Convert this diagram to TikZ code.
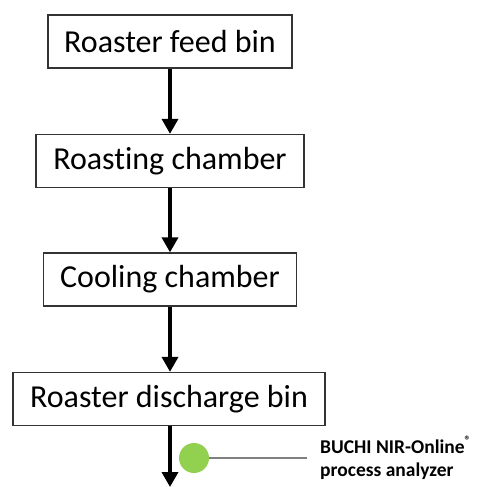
\documentclass[tikz,border=0pt]{standalone}
\usepackage{fontspec}
\setmainfont{Carlito}[Ligatures={NoCommon}]
\usetikzlibrary{arrows.meta}
\begin{document}
\begin{tikzpicture}[x=1pt,y=-1pt,
  stage/.style={draw=black!80,line width=1.3pt,fill=white,minimum height=53pt,inner sep=0pt,font=\fontsize{32}{38}\selectfont},
  flow/.style={line width=3.5pt,-{Triangle[width=16pt,length=15pt]}},
  probe/.style={circle,minimum size=30pt,inner sep=0pt,draw=none},
  lead/.style={draw=black!50,line width=1.2pt},
  note/.style={font=\fontsize{19.5}{23}\selectfont\bfseries,align=left,anchor=west,inner sep=0pt}]
\useasboundingbox (0,0) rectangle (479,487);
\definecolor{probegreen}{RGB}{146,208,80}
\node[stage,minimum width=244pt] (b1) at (170,41.5) {Roaster feed bin};
\node[stage,minimum width=268pt] (b2) at (170,161) {Roasting chamber};
\node[stage,minimum width=253pt] (b3) at (170,279.5) {Cooling chamber};
\node[stage,minimum width=312pt] (b4) at (169,399) {Roaster discharge bin};
\coordinate (end) at (170,487);
\draw[flow] (b1.south -| 170,0) -- (b2.north -| 170,0);
\draw[flow] (b2.south -| 170,0) -- (b3.north -| 170,0);
\draw[flow] (b3.south -| 170,0) -- (b4.north -| 170,0);
\draw[flow] (b4.south -| 170,0) -- (end);
\node[probe,fill=probegreen] (p) at (194,458) {};
\coordinate (le) at (307,458);
\draw[lead] (p.east) -- (le);
\node[note] (t) at (320,458) {BUCHI NIR-Online\raisebox{0.9ex}{\fontsize{12}{12}\selectfont ®}\\process analyzer};
\end{tikzpicture}
\end{document}
